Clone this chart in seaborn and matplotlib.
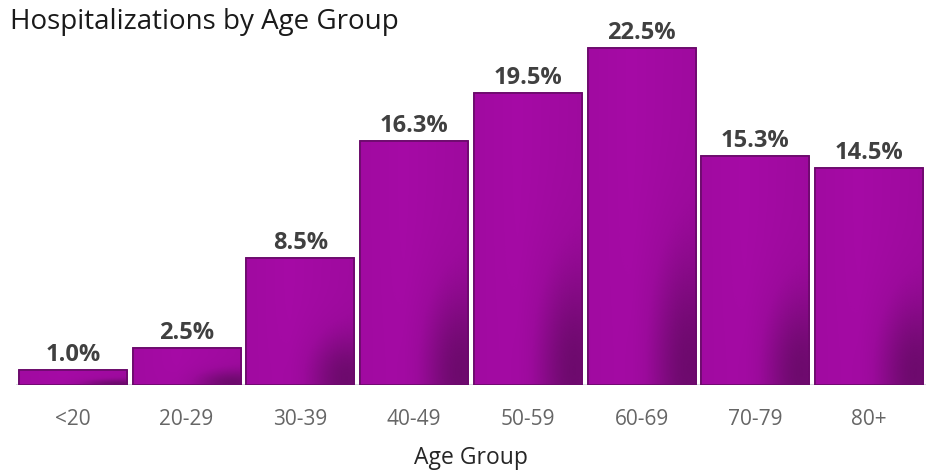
import numpy as np
import pandas as pd
import matplotlib
matplotlib.use("Agg")
import matplotlib.pyplot as plt
import seaborn as sns
from matplotlib.colors import LinearSegmentedColormap

sns.set_style("white")
plt.rcParams['font.family'] = ['Open Sans', 'DejaVu Sans']

# dados
age_groups = ['<20', '20-29', '30-39', '40-49', '50-59', '60-69', '70-79', '80+']
share = [1.0, 2.5, 8.5, 16.3, 19.5, 22.5, 15.3, 14.5]

df = pd.DataFrame({'Age Group': age_groups, 'Share': share})

fig = plt.figure(figsize=(9.26, 4.74), dpi=100)
ax = fig.add_axes([16 / 926, 89 / 474, 910 / 926, 365 / 474])

sns.barplot(data=df, x='Age Group', y='Share', color='#9a0a9a', width=0.95,
            edgecolor='#6a0a6a', linewidth=1.2, ax=ax, zorder=2)

# gradiente dentro de cada barra (mais escuro no canto inferior direito)
cmap = LinearSegmentedColormap.from_list('purp', ['#b40cb4', '#9c0a9c', '#6c0a6c'])
yy, xx = np.mgrid[0:1:120j, 0:1:120j]
grad = 0.3 + 0.25 * np.abs(xx - 0.4)
grad += 0.55 * np.exp(-((xx - 0.9) ** 2 + (yy - 0.95) ** 2) / 0.12)
grad = np.clip(grad, 0, 1)
for p in ax.patches:
    x0, y0 = p.get_x(), p.get_y()
    w, h = p.get_width(), p.get_height()
    im = ax.imshow(grad, cmap=cmap, vmin=0, vmax=1, aspect='auto',
                   extent=[x0, x0 + w, y0, y0 + h], origin='upper', zorder=2.5)
    im.set_clip_path(p)

for p in ax.patches:
    ax.add_patch(plt.Rectangle((p.get_x(), p.get_y()), p.get_width(), p.get_height(),
                               fill=False, edgecolor='#6a0a6a', linewidth=1.2, zorder=3))

for i, v in enumerate(share):
    ax.text(i, v + 0.2, f'{v:.1f}%', ha='center', va='bottom', fontsize=17,
            fontweight='bold', color='#404040', zorder=4)

ax.set_xlim(-0.5, len(age_groups) - 0.5)
ax.set_ylim(0, 365 / 14.98)
ax.axhline(0, color='#d8dde0', linewidth=1.5, zorder=1)
ax.set_yticks([])
for s in ax.spines.values():
    s.set_visible(False)
ax.tick_params(axis='x', length=0, pad=17, labelsize=15, labelcolor='#666666')
ax.set_xlabel('Age Group', fontsize=16.5, color='#262626', labelpad=12)
ax.set_ylabel('')

fig.text(10 / 926, 1 - 22 / 474, 'Hospitalizations by Age Group', fontsize=20,
         color='#1a1a1a', ha='left', va='center')

fig.savefig('out.png', dpi=100)
